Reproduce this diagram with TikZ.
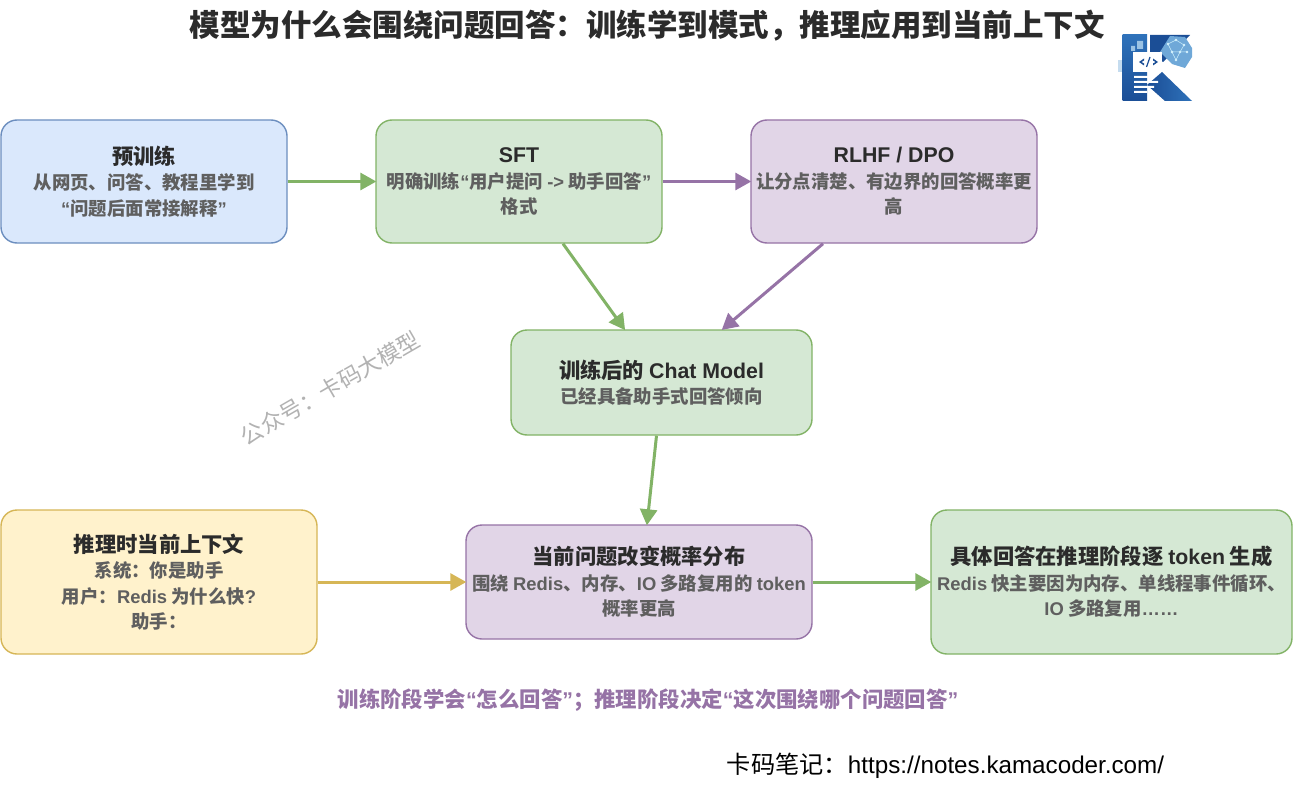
\documentclass[tikz,border=0pt]{standalone}
\usepackage{fontspec}
\setmainfont{Noto Sans CJK SC}
\newfontfamily\lat{Liberation Sans}
\usetikzlibrary{positioning,arrows.meta}
\definecolor{blueFill}{HTML}{DAE8FC}
\definecolor{blueLine}{HTML}{6C8EBF}
\definecolor{greenFill}{HTML}{D5E8D4}
\definecolor{greenLine}{HTML}{82B366}
\definecolor{purpleFill}{HTML}{E1D5E7}
\definecolor{purpleLine}{HTML}{9673A6}
\definecolor{yellowFill}{HTML}{FFF2CC}
\definecolor{yellowLine}{HTML}{D6B656}
\definecolor{bodyGray}{HTML}{5F5F5F}
\definecolor{headGray}{HTML}{2B2B2B}
\definecolor{logoDark}{HTML}{1B4E96}
\definecolor{logoMid}{HTML}{2F72BA}
\definecolor{logoBrain}{HTML}{6FA8D8}
\newcommand{\boxhead}[1]{{\fontsize{21.3}{26}\selectfont\bfseries\color{headGray}#1}}
\tikzset{
  card/.style={draw, line width=1.4pt, rounded corners=16pt, align=center, inner sep=0pt,
    font=\fontsize{18.4}{25.5}\selectfont\bfseries, text=bodyGray},
  flow/.style={line width=3pt, -{Triangle[length=16pt,width=17pt]}, shorten >=-1pt},
}
\begin{document}
\begin{tikzpicture}[x=1pt, y=-1pt]
        \useasboundingbox (0,0) rectangle (1295,797);
        \fill[white] (0,0) rectangle (1295,797);
        % Title
        \node[font=\fontsize{30.5}{36}\selectfont\bfseries, text=headGray] (title) at (647,26) {模型为什么会围绕问题回答：训练学到模式，推理应用到当前上下文};
        % Top row
        \node[card, fill=blueFill, draw=blueLine, minimum width=286pt, minimum height=123pt] (pretrain) at (144,181.5)
          {\boxhead{预训练}\\从网页、问答、教程里学到\\{\lat “}问题后面常接解释{\lat ”}};
        \node[card, fill=greenFill, draw=greenLine, minimum width=286pt, minimum height=123pt] (sft) at (519,181.5)
          {\boxhead{\lat SFT}\\明确训练{\lat “}用户提问 {\lat ->} 助手回答{\lat ”}\\格式};
        \node[card, fill=purpleFill, draw=purpleLine, minimum width=286pt, minimum height=123pt] (rlhf) at (894,181.5)
          {\boxhead{\lat RLHF / DPO}\\让分点清楚、有边界的回答概率更\\高};
        % Middle
        \node[card, fill=greenFill, draw=greenLine, minimum width=301pt, minimum height=105pt] (chat) at (661.5,382.5)
          {\boxhead{训练后的 {\lat Chat Model}}\\已经具备助手式回答倾向};
        % Bottom row
        \node[card, fill=yellowFill, draw=yellowLine, minimum width=316pt, minimum height=144pt] (context) at (159,582)
          {\boxhead{推理时当前上下文}\\系统：你是助手\\用户：{\lat Redis} 为什么快{\lat ?}\\助手：};
        \node[card, fill=purpleFill, draw=purpleLine, minimum width=346pt, minimum height=114pt] (current) at (639,582)
          {\boxhead{当前问题改变概率分布}\\围绕 {\lat Redis}、内存、{\lat IO} 多路复用的 {\lat token}\\概率更高};
        \node[card, fill=greenFill, draw=greenLine, minimum width=361pt, minimum height=144pt] (answer) at (1111.5,582)
          {\boxhead{具体回答在推理阶段逐 {\lat token} 生成}\\{\lat Redis} 快主要因为内存、单线程事件循环、\\{\lat IO} 多路复用{\lat ……}};
        % Connectors
        \draw[flow, greenLine] (pretrain) -- (sft);
        \draw[flow, purpleLine] (sft) -- (rlhf);
        \draw[flow, greenLine] ([xshift=44pt]sft.south) -- ([xshift=-37pt]chat.north);
        \draw[flow, purpleLine] ([xshift=-71pt]rlhf.south) -- ([xshift=61pt]chat.north);
        \draw[flow, greenLine] ([xshift=-5pt]chat.south) -- ([xshift=8pt]current.north);
        \draw[flow, yellowLine] (context) -- (current);
        \draw[flow, greenLine] (current) -- (answer);
        % Notes
        \node[font=\fontsize{21.4}{26}\selectfont\bfseries, text=purpleLine] (note) at (648,700)
          {训练阶段学会{\lat “}怎么回答{\lat ”}；推理阶段决定{\lat “}这次围绕哪个问题回答{\lat ”}};
        \node[font=\fontsize{24.2}{28}\selectfont, text=black] (site) at (945.5,766) {卡码笔记：{\lat https://notes.kamacoder.com/}};
        \node[font=\fontsize{22.5}{26}\selectfont, text=black!30, rotate=30] (mark) at (330,388) {公众号：卡码大模型};
        % Logo
        \shade[top color=logoMid, bottom color=logoDark] (1122.5,35) rectangle (1147,101);
        \shade[left color=logoDark, right color=logoMid] (1147,85) -- (1162,72) -- (1192,101) -- (1165,101) -- cycle;
        \fill[logoDark] (1150,35) -- (1190,35) -- (1163,62) -- (1150,52) -- cycle;
        \fill[logoBrain] (1170,36) -- (1185,37) -- (1192,48) -- (1192,57) -- (1185,68) -- (1172,64) -- (1160,52) -- cycle;
        \foreach \px/\py in {1168/44,1176/40,1184/45,1172/52,1180/52,1187/52,1176/60}
          \fill[white!85!cyan] (\px,\py) circle (1.3pt);
        \draw[white!80!cyan, line width=0.5pt] (1168,44) -- (1176,40) -- (1184,45) -- (1180,52) -- (1172,52) -- (1168,44) (1180,52) -- (1187,52) (1172,52) -- (1176,60) -- (1180,52);
        \fill[logoBrain!70!white] (1131,46) rectangle (1135,51) (1137,41) rectangle (1143,49);
        \fill[logoBrain!40!white] (1118,60) rectangle (1122,72);
        \fill[white] (1133,52) rectangle (1162,72);
        \fill[logoDark] (1139,62) -- (1144,58.5) -- (1144,60.5) -- (1141.5,62) -- (1144,63.5) -- (1144,65.5) -- cycle;
        \fill[logoDark] (1158,62) -- (1153,58.5) -- (1153,60.5) -- (1155.5,62) -- (1153,63.5) -- (1153,65.5) -- cycle;
        \draw[logoDark, line width=1.2pt] (1146.5,67) -- (1150,57);
        \fill[white] (1134,76) rectangle (1154,78) (1134,81) rectangle (1158,83) (1134,86) rectangle (1154,88) (1134,91) rectangle (1147,93);
\end{tikzpicture}
\end{document}
